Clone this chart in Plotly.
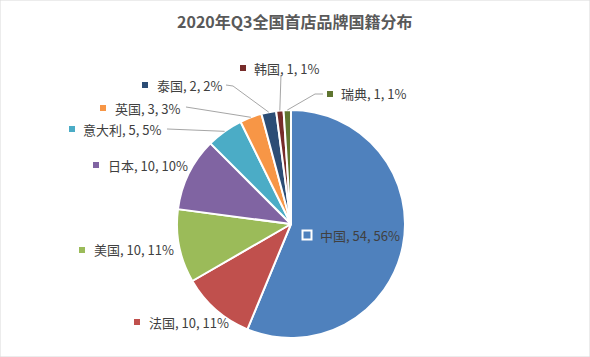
import math
import plotly.graph_objects as go

# ---- data ----
countries = ["中国", "法国", "美国", "日本", "意大利", "英国", "泰国", "韩国", "瑞典"]
counts = [54, 10, 10, 10, 5, 3, 2, 1, 1]
pct_labels = ["56%", "11%", "11%", "10%", "5%", "3%", "2%", "1%", "1%"]
colors = ["#4F81BD", "#C0504D", "#9BBB59", "#8064A2", "#4BACC6",
          "#F79646", "#2C4D75", "#772C2A", "#5F7530"]
title_text = "2020年Q3全国首店品牌国籍分布"

# ---- layout constants (pixels) ----
W, H = 590, 357
CX, CY, R = 291, 224, 114
# label marker centre (x, y) and text start x
label_pos = {
    "中国": (307, 235, 318),
    "法国": (137, 322, 147),
    "美国": (82, 250, 92),
    "日本": (96, 165, 106),
    "意大利": (72, 129, 81),
    "英国": (103, 108, 113),
    "泰国": (145, 85, 155),
    "韩国": (243, 68, 252),
    "瑞典": (330, 94, 339),
}
# leader line start points (pixels), end is computed from the slice angle
leader_start = {
    "意大利": [(167, 129)],
    "英国": [(186, 107)],
    "泰国": [(226, 85), (233, 86)],
    "韩国": [(281, 75)],
    "瑞典": [(323, 94), (315, 94)],
}
FONT = "Noto Sans CJK SC, Noto Sans, sans-serif"


def px(x):
    return x / W


def py(y):
    return 1 - y / H


fig = go.Figure(go.Pie(
    labels=countries, values=counts, sort=False, direction="clockwise",
    rotation=0, textinfo="none", hoverinfo="label+value+percent",
    marker=dict(colors=colors, line=dict(color="white", width=2)),
    domain=dict(x=[px(CX - R), px(CX + R)], y=[py(CY + R), py(CY - R)]),
    showlegend=False,
))

shapes = []
annotations = []

# slice mid-angle points on the circumference
total = sum(counts)
cum = 0
mid_pts = {}
for c, v in zip(countries, counts):
    mid = (cum + v / 2) / total * 2 * math.pi
    mid_pts[c] = (CX + R * math.sin(mid), CY - R * math.cos(mid))
    cum += v

for c, v, p, col in zip(countries, counts, pct_labels, colors):
    mx, my, tx = label_pos[c]
    if c == "中国":
        shapes.append(dict(type="rect", xref="paper", yref="paper",
                           x0=px(mx - 4.5), x1=px(mx + 4.5),
                           y0=py(my + 4.5), y1=py(my - 4.5),
                           fillcolor=col, line=dict(color="white", width=2)))
    else:
        shapes.append(dict(type="rect", xref="paper", yref="paper",
                           x0=px(mx - 3), x1=px(mx + 3),
                           y0=py(my + 3), y1=py(my - 3),
                           fillcolor=col, line=dict(width=0)))
    annotations.append(dict(
        x=px(tx), y=py(my), xref="paper", yref="paper",
        xanchor="left", yanchor="middle", showarrow=False,
        text=f"{c}, {v}, {p}",
        font=dict(size=13, color="#404040", family=FONT)))
    if c in leader_start:
        pts = leader_start[c] + [mid_pts[c]]
        path = "M " + " L ".join(f"{px(x):.5f},{py(y):.5f}" for x, y in pts)
        shapes.append(dict(type="path", xref="paper", yref="paper", path=path,
                           line=dict(color="#A6A6A6", width=1)))

# outer border
shapes.append(dict(type="rect", xref="paper", yref="paper", x0=0, x1=1, y0=0, y1=1,
                   line=dict(color="#D9D9D9", width=1), fillcolor="rgba(0,0,0,0)"))

annotations.append(dict(
    x=px(295), y=py(21), xref="paper", yref="paper", xanchor="center",
    yanchor="middle", showarrow=False, text=f"<b>{title_text}</b>",
    font=dict(size=16, color="#595959", family=FONT)))

fig.update_layout(
    width=W, height=H, margin=dict(l=0, r=0, t=0, b=0),
    paper_bgcolor="white", plot_bgcolor="white",
    shapes=shapes, annotations=annotations,
)

fig.write_html("out.html",
               config={"displayModeBar": False},
               post_script="document.body.style.margin='0';"
                           "document.body.style.overflow='hidden';")
